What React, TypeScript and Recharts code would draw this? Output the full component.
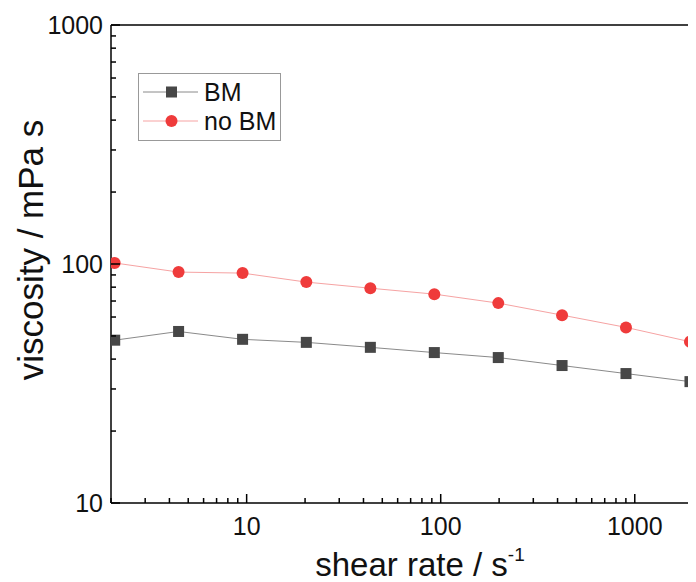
import React from 'react';
import { LineChart, Line, XAxis, YAxis, ReferenceLine, Legend, Label } from 'recharts';

// values
const shearRate = [2.09, 4.46, 9.53, 20.3, 43.4, 92.7, 198, 422, 901, 1925];
const viscosityBM = [48, 52.2, 48.4, 47, 44.8, 42.6, 40.6, 37.6, 34.8, 32.2];
const viscosityNoBM = [101, 92.5, 91.6, 84, 79.2, 74.8, 68.6, 61.1, 54.3, 47.3];

const xTicks = [2, 3, 4, 5, 6, 7, 8, 9, 10, 20, 30, 40, 50, 60, 70, 80, 90, 100, 200, 300, 400, 500, 600, 700, 800, 900, 1000, 2000];
const yTicks = [10, 20, 30, 40, 50, 60, 70, 80, 90, 100, 200, 300, 400, 500, 600, 700, 800, 900, 1000];
const majorTicks = [10, 100, 1000];

const BM_COLOR = '#474747';
const BM_LINE = '#8a8a8a';
const NOBM_COLOR = '#ef3b3b';
const NOBM_LINE = '#f6a3a3';
const FONT = 'Liberation Sans, Arial, sans-serif';

const data = shearRate.map((x, i) => ({ x, bm: viscosityBM[i], noBm: viscosityNoBM[i] }));

const XTick = ({ x, y, payload }: any) => {
  const major = majorTicks.includes(payload.value);
  return (
    <g>
      <line x1={x} x2={x} y1={y} y2={y - (major ? 9 : 5)} stroke="#000" strokeWidth={1.5} />
      {major && (
        <text x={x} y={y + 32} textAnchor="middle" fontSize={25} fill="#111" fontFamily={FONT}>
          {payload.value}
        </text>
      )}
    </g>
  );
};

const YTick = ({ x, y, payload }: any) => {
  const major = majorTicks.includes(payload.value);
  return (
    <g>
      <line x1={x} x2={x + (major ? 9 : 5)} y1={y} y2={y} stroke="#000" strokeWidth={1.5} />
      {major && (
        <text x={x - 8} y={y + 9} textAnchor="end" fontSize={25} fill="#111" fontFamily={FONT}>
          {payload.value}
        </text>
      )}
    </g>
  );
};

const SquareDot = ({ cx, cy }: any) => (
  <rect x={cx - 5.5} y={cy - 5.5} width={11} height={11} fill={BM_COLOR} />
);

const CircleDot = ({ cx, cy }: any) => <circle cx={cx} cy={cy} r={6} fill={NOBM_COLOR} />;

const LegendBox = () => (
  <svg width={143} height={68}>
    <rect x={0.5} y={0.5} width={142} height={67} fill="#fff" stroke="#999" />
    <line x1={5} x2={60} y1={19} y2={19} stroke={BM_LINE} strokeWidth={1} />
    <rect x={28} y={13.5} width={11} height={11} fill={BM_COLOR} />
    <text x={66} y={28} fontSize={25} fill="#111" fontFamily={FONT}>BM</text>
    <line x1={5} x2={60} y1={48} y2={48} stroke={NOBM_LINE} strokeWidth={1} />
    <circle cx={33.5} cy={48} r={6} fill={NOBM_COLOR} />
    <text x={66} y={57} fontSize={25} fill="#111" fontFamily={FONT}>no BM</text>
  </svg>
);

export default function App() {
  return (
    <div style={{ width: 688, height: 574, overflow: 'hidden', position: 'relative' }}>
      <LineChart
        width={720}
        height={574}
        data={data}
        margin={{ top: 17, right: 16, bottom: 0, left: 0 }}
        style={{ fontFamily: FONT }}
      >
        <XAxis
          dataKey="x"
          type="number"
          scale="log"
          domain={[2, 2500]}
          allowDataOverflow
          ticks={xTicks}
          interval={0}
          tick={<XTick />}
          tickLine={false}
          tickSize={0}
          tickMargin={0}
          height={79}
          axisLine={{ stroke: '#000', strokeWidth: 1.5 }}
          label={
            <Label
              content={() => (
                <text x={412} y={568} textAnchor="middle" fontSize={33} fill="#111" fontFamily={FONT}>
                  shear rate / s
                  <tspan fontSize={19} dy={-15}>-1</tspan>
                </text>
              )}
            />
          }
        />
        <YAxis
          type="number"
          scale="log"
          domain={[10, 1000]}
          allowDataOverflow
          ticks={yTicks}
          interval={0}
          tick={<YTick />}
          tickLine={false}
          tickSize={0}
          tickMargin={0}
          width={103}
          axisLine={{ stroke: '#000', strokeWidth: 1.5 }}
          label={
            <Label
              content={() => (
                <text
                  x={35}
                  y={242}
                  transform="rotate(-90 35 242)"
                  textAnchor="middle"
                  fontSize={35}
                  fill="#111"
                  fontFamily={FONT}
                >
                  viscosity / mPa s
                </text>
              )}
            />
          }
        />
        <ReferenceLine y={1000} stroke="#000" strokeWidth={1.5} ifOverflow="visible" />
        <Legend
          content={<LegendBox />}
          layout="horizontal"
          verticalAlign="middle"
          align="center"
          wrapperStyle={{ position: 'absolute', top: 65, left: 130, width: 143, height: 68 }}
        />
        <Line
          dataKey="bm"
          name="BM"
          stroke={BM_LINE}
          strokeWidth={1}
          dot={<SquareDot />}
          activeDot={false}
          isAnimationActive={false}
        />
        <Line
          dataKey="noBm"
          name="no BM"
          stroke={NOBM_LINE}
          strokeWidth={1}
          dot={<CircleDot />}
          activeDot={false}
          isAnimationActive={false}
        />
      </LineChart>
    </div>
  );
}
